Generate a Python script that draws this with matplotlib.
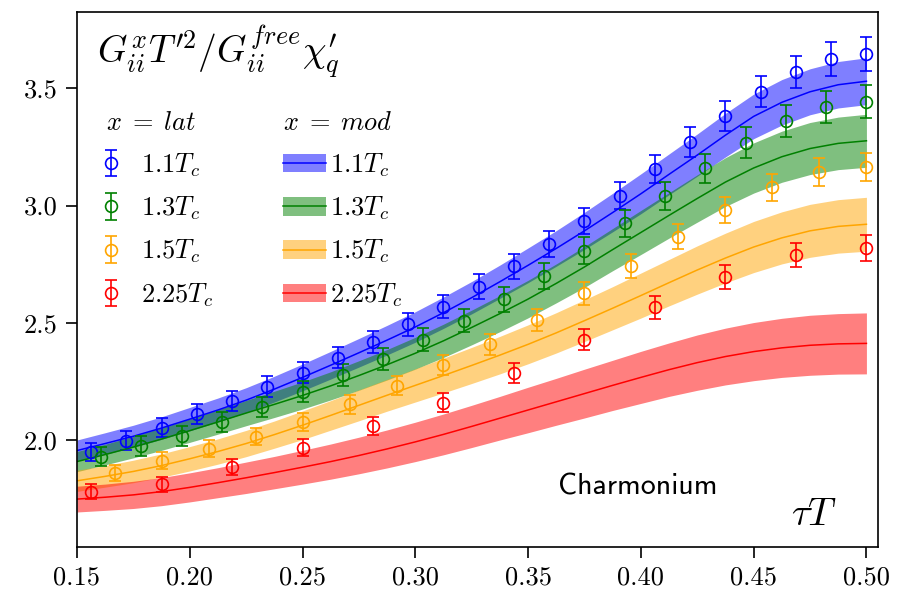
import matplotlib
matplotlib.use('Agg')
from matplotlib import pyplot as plt
from matplotlib.patches import Patch
from matplotlib.lines import Line2D
from matplotlib.ticker import FormatStrFormatter

plt.rcParams['mathtext.fontset'] = 'cm'
plt.rcParams['font.family'] = 'serif'
plt.rcParams['font.serif'] = ['cmr10']
plt.rcParams['axes.unicode_minus'] = False
plt.rcParams['axes.formatter.use_mathtext'] = True

# lattice data, tau*T
tau_11 = [0.15625, 0.171875, 0.1875, 0.203125, 0.21875, 0.234375, 0.25, 0.265625,
          0.28125, 0.296875, 0.3125, 0.328125, 0.34375, 0.359375, 0.375, 0.390625,
          0.40625, 0.421875, 0.4375, 0.453125, 0.46875, 0.484375, 0.5]
val_11 = [1.950, 1.997, 2.052, 2.110, 2.168, 2.227, 2.287, 2.351, 2.419, 2.494, 2.569,
          2.654, 2.740, 2.836, 2.934, 3.042, 3.156, 3.270, 3.382, 3.486, 3.569, 3.625, 3.647]
err_11 = [0.039, 0.040, 0.041, 0.042, 0.043, 0.044, 0.045, 0.046, 0.047, 0.049, 0.050,
          0.052, 0.053, 0.055, 0.057, 0.059, 0.061, 0.063, 0.065, 0.067, 0.069, 0.071, 0.072]

tau_13 = [0.160714, 0.178571, 0.196429, 0.214286, 0.232143, 0.25, 0.267857, 0.285714,
          0.303571, 0.321429, 0.339286, 0.357143, 0.375, 0.392857, 0.410714, 0.428571,
          0.446429, 0.464286, 0.482143, 0.5]
val_13 = [1.929, 1.974, 2.018, 2.078, 2.140, 2.206, 2.277, 2.347, 2.427, 2.509, 2.600,
          2.700, 2.808, 2.924, 3.042, 3.159, 3.268, 3.361, 3.419, 3.443]
err_13 = [0.040, 0.041, 0.042, 0.043, 0.044, 0.045, 0.046, 0.047, 0.049, 0.050, 0.052,
          0.054, 0.056, 0.058, 0.060, 0.062, 0.065, 0.067, 0.069, 0.070]

tau_15 = [0.166667, 0.1875, 0.208333, 0.229167, 0.25, 0.270833, 0.291667, 0.3125,
          0.333333, 0.354167, 0.375, 0.395833, 0.416667, 0.4375, 0.458333, 0.479167, 0.5]
val_15 = [1.861, 1.912, 1.962, 2.014, 2.078, 2.152, 2.232, 2.320, 2.408, 2.512, 2.626,
          2.744, 2.867, 2.981, 3.078, 3.142, 3.166]
err_15 = [0.034, 0.035, 0.036, 0.037, 0.038, 0.040, 0.041, 0.043, 0.045, 0.047, 0.049,
          0.051, 0.053, 0.055, 0.057, 0.059, 0.060]

tau_225 = [0.15625, 0.1875, 0.21875, 0.25, 0.28125, 0.3125, 0.34375, 0.375, 0.40625,
           0.4375, 0.46875, 0.5]
val_225 = [1.780, 1.812, 1.884, 1.967, 2.060, 2.159, 2.285, 2.427, 2.566, 2.697, 2.789, 2.820]
err_225 = [0.031, 0.032, 0.034, 0.036, 0.038, 0.040, 0.042, 0.045, 0.048, 0.051, 0.053, 0.055]

# model curves
tau_mod = [0.15, 0.1625, 0.175, 0.1875, 0.2, 0.2125, 0.225, 0.2375, 0.25, 0.2625,
           0.275, 0.2875, 0.3, 0.3125, 0.325, 0.3375, 0.35, 0.3625, 0.375, 0.3875,
           0.4, 0.4125, 0.425, 0.4375, 0.45, 0.4625, 0.475, 0.4875, 0.5]
mod_11 = [1.955, 1.985, 2.016, 2.051, 2.089, 2.128, 2.170, 2.217, 2.267, 2.319,
          2.372, 2.426, 2.482, 2.543, 2.607, 2.675, 2.745, 2.817, 2.892, 2.970,
          3.050, 3.133, 3.215, 3.300, 3.380, 3.440, 3.485, 3.515, 3.530]
band_11 = [0.045, 0.046, 0.047, 0.048, 0.050, 0.051, 0.053, 0.055, 0.057, 0.059,
           0.061, 0.063, 0.065, 0.067, 0.069, 0.071, 0.074, 0.076, 0.079, 0.082,
           0.085, 0.087, 0.090, 0.093, 0.095, 0.097, 0.098, 0.099, 0.100]
mod_13 = [1.908, 1.938, 1.970, 2.004, 2.040, 2.077, 2.115, 2.152, 2.190, 2.231,
          2.275, 2.321, 2.370, 2.423, 2.480, 2.539, 2.601, 2.668, 2.738, 2.812,
          2.885, 2.958, 3.030, 3.100, 3.160, 3.208, 3.243, 3.265, 3.276]
band_13 = [0.043, 0.044, 0.046, 0.048, 0.050, 0.052, 0.054, 0.056, 0.058, 0.060,
           0.063, 0.065, 0.068, 0.071, 0.074, 0.077, 0.080, 0.083, 0.087, 0.090,
           0.094, 0.097, 0.101, 0.104, 0.107, 0.109, 0.111, 0.112, 0.113]
mod_15 = [1.826, 1.845, 1.866, 1.891, 1.920, 1.951, 1.985, 2.023, 2.063, 2.105,
          2.148, 2.191, 2.233, 2.275, 2.318, 2.362, 2.408, 2.457, 2.509, 2.562,
          2.616, 2.671, 2.725, 2.776, 2.823, 2.862, 2.892, 2.911, 2.920]
band_15 = [0.045, 0.046, 0.048, 0.050, 0.052, 0.054, 0.056, 0.058, 0.061, 0.063,
           0.066, 0.068, 0.071, 0.074, 0.077, 0.080, 0.083, 0.086, 0.089, 0.092,
           0.096, 0.099, 0.103, 0.106, 0.109, 0.111, 0.113, 0.114, 0.115]
mod_225 = [1.748, 1.756, 1.766, 1.780, 1.798, 1.818, 1.839, 1.861, 1.884, 1.908,
           1.934, 1.962, 1.992, 2.024, 2.058, 2.093, 2.128, 2.163, 2.198, 2.233,
           2.267, 2.300, 2.330, 2.356, 2.377, 2.393, 2.404, 2.410, 2.412]
band_225 = [0.055, 0.056, 0.058, 0.060, 0.062, 0.064, 0.067, 0.069, 0.072, 0.075,
            0.078, 0.081, 0.084, 0.087, 0.090, 0.093, 0.097, 0.100, 0.104, 0.107,
            0.111, 0.114, 0.118, 0.121, 0.124, 0.126, 0.128, 0.129, 0.130]

labels = [r'$1.1T_c$', r'$1.3T_c$', r'$1.5T_c$', r'$2.25T_c$']
colors = ['blue', 'green', 'orange', 'red']

lat = [(tau_11, val_11, err_11), (tau_13, val_13, err_13),
       (tau_15, val_15, err_15), (tau_225, val_225, err_225)]
mod = [(mod_11, band_11), (mod_13, band_13), (mod_15, band_15), (mod_225, band_225)]

fig = plt.figure(figsize=(8.98, 5.96), dpi=100)
ax = fig.add_axes([0.0857, 0.0827, 0.8917, 0.8967])

lat_handles = []
mod_handles = []
for (t, v, e), (m, b), c, lab in zip(lat, mod, colors, labels):
    lo = [mm - bb for mm, bb in zip(m, b)]
    hi = [mm + bb for mm, bb in zip(m, b)]
    ax.fill_between(tau_mod, lo, hi, color=c, alpha=0.5, lw=0)
    ax.plot(tau_mod, m, color=c, lw=1.1)
    h = ax.errorbar(t, v, yerr=e, fmt='o', color=c, mfc='none', ms=8.5,
                    mew=1.2, elinewidth=1.2, capsize=4, capthick=1.2)
    lat_handles.append(h)
    mod_handles.append((Patch(facecolor=c, alpha=0.5, lw=0), Line2D([], [], color=c, lw=1.1)))

ax.set_xlim(0.15, 0.505)
ax.set_ylim(1.545, 3.824)
ax.set_xticks([0.15, 0.20, 0.25, 0.30, 0.35, 0.40, 0.45, 0.50])
ax.set_yticks([2.0, 2.5, 3.0, 3.5])
ax.xaxis.set_major_formatter(FormatStrFormatter('%.2f'))
ax.yaxis.set_major_formatter(FormatStrFormatter('%.1f'))
ax.tick_params(labelsize=19, length=8, width=1.2, pad=6)
for s in ax.spines.values():
    s.set_linewidth(1.2)

leg1 = ax.legend(lat_handles, labels, title=r'$x\;=\;lat$', loc='upper left',
                 bbox_to_anchor=(0.036, 0.814), frameon=False, fontsize=19,
                 title_fontsize=19, alignment='left', handlelength=0.4,
                 handletextpad=0.93, labelspacing=0.6, borderpad=0, borderaxespad=0)
ax.add_artist(leg1)
ax.legend(mod_handles, labels, title=r'$x\;=\;mod$', loc='upper left',
          bbox_to_anchor=(0.257, 0.814), frameon=False, fontsize=19,
          title_fontsize=19, alignment='left', handlelength=1.65,
          handletextpad=0.15, labelspacing=0.6, borderpad=0, borderaxespad=0)

ax.text(0.025, 0.905, r'$G^x_{ii}T^{\prime 2}/G^{free}_{ii}\chi^{\prime}_q$',
        transform=ax.transAxes, fontsize=27, va='baseline', ha='left')
ax.text(0.892, 0.041, r'$\tau T$', transform=ax.transAxes, fontsize=28,
        va='baseline', ha='left')
ax.text(0.6007, 0.0986, 'Charmonium', transform=ax.transAxes, fontsize=21.5,
        family='cmss10', va='baseline', ha='left')

fig.savefig('out.png', dpi=100)
